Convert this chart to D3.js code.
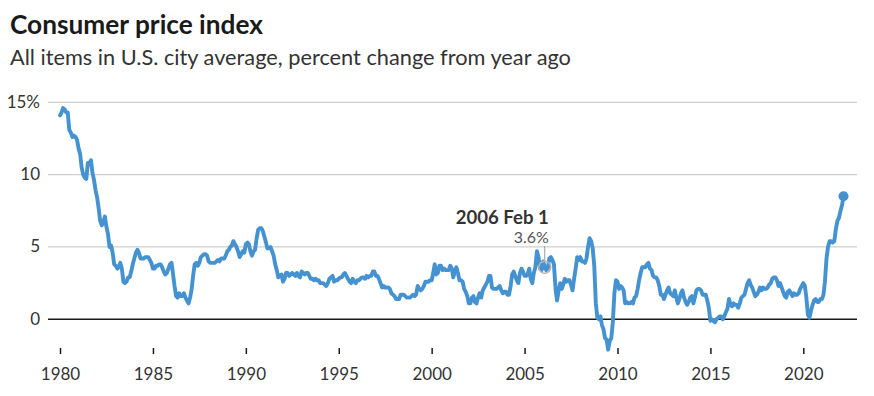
<!DOCTYPE html>
<html>
<head>
<meta charset="utf-8">
<script src="https://cdn.jsdelivr.net/npm/d3@7"></script>
<style>
  html, body { margin: 0; padding: 0; background: #fff; }
  svg { display: block; font-family: Lato, "Open Sans", sans-serif; }
</style>
</head>
<body>
<svg id="chart" width="874" height="396"></svg>
<script>
// ---- data ----
const title = "Consumer price index";
const subtitle = "All items in U.S. city average, percent change from year ago";
const startYear = 1980;
// Monthly CPI-U, % change from year ago, Jan 1980 .. Mar 2022
const cpiYoY = [
  14.1, 14.3, 14.6, 14.5, 14.3, 14.3, 13.1, 12.9, 12.6, 12.7, 12.6, 12.4,
  11.8, 11.4, 10.5, 10.0, 9.8, 9.7, 10.8, 10.8, 11.0, 10.1, 9.6, 8.9,
  8.4, 7.6, 6.8, 6.5, 6.7, 7.1, 6.4, 5.9, 5.0, 5.1, 4.6, 3.8,
  3.7, 3.5, 3.6, 3.9, 3.5, 2.6, 2.5, 2.6, 2.9, 2.9, 3.3, 3.8,
  4.2, 4.6, 4.8, 4.6, 4.2, 4.2, 4.2, 4.3, 4.3, 4.3, 4.1, 3.9,
  3.5, 3.5, 3.7, 3.7, 3.8, 3.8, 3.6, 3.3, 3.1, 3.2, 3.5, 3.8,
  3.9, 3.1, 2.3, 1.6, 1.5, 1.8, 1.6, 1.6, 1.8, 1.5, 1.3, 1.1,
  1.5, 2.1, 3.0, 3.8, 3.9, 3.7, 3.9, 4.3, 4.4, 4.5, 4.5, 4.4,
  4.0, 3.9, 3.9, 3.9, 3.9, 4.0, 4.1, 4.0, 4.2, 4.2, 4.2, 4.4,
  4.7, 4.8, 5.0, 5.1, 5.4, 5.2, 5.0, 4.7, 4.3, 4.5, 4.7, 4.6,
  5.2, 5.3, 5.2, 4.7, 4.4, 4.7, 4.8, 5.6, 6.2, 6.3, 6.3, 6.1,
  5.7, 5.3, 4.9, 4.9, 5.0, 4.7, 4.4, 3.8, 3.4, 2.9, 3.0, 3.1,
  2.6, 2.8, 3.2, 3.2, 3.0, 3.1, 3.2, 3.1, 3.0, 3.2, 3.0, 2.9,
  3.3, 3.2, 3.1, 3.2, 3.2, 3.0, 2.8, 2.8, 2.7, 2.8, 2.7, 2.7,
  2.5, 2.5, 2.5, 2.4, 2.3, 2.5, 2.8, 2.9, 3.0, 2.6, 2.7, 2.7,
  2.8, 2.9, 2.9, 3.1, 3.2, 3.0, 2.8, 2.6, 2.5, 2.8, 2.6, 2.5,
  2.7, 2.7, 2.8, 2.9, 2.9, 2.8, 3.0, 2.9, 3.0, 3.0, 3.3, 3.3,
  3.0, 3.0, 2.8, 2.5, 2.2, 2.3, 2.2, 2.2, 2.2, 2.1, 1.8, 1.7,
  1.6, 1.4, 1.4, 1.4, 1.7, 1.7, 1.7, 1.6, 1.5, 1.5, 1.5, 1.6,
  1.7, 1.6, 1.7, 2.3, 2.1, 2.0, 2.1, 2.3, 2.6, 2.6, 2.6, 2.7,
  2.7, 3.2, 3.8, 3.1, 3.2, 3.7, 3.7, 3.4, 3.5, 3.4, 3.4, 3.4,
  3.7, 3.5, 2.9, 3.3, 3.6, 3.2, 2.7, 2.7, 2.6, 2.1, 1.9, 1.6,
  1.1, 1.1, 1.5, 1.6, 1.2, 1.1, 1.5, 1.8, 1.5, 2.0, 2.2, 2.4,
  2.6, 3.0, 3.0, 2.2, 2.1, 2.1, 2.1, 2.2, 2.3, 2.0, 1.8, 1.9,
  1.9, 1.7, 1.7, 2.3, 3.1, 3.3, 3.0, 2.7, 2.5, 3.2, 3.5, 3.3,
  3.0, 3.0, 3.1, 3.5, 2.8, 2.5, 3.2, 3.6, 4.7, 4.3, 3.5, 3.4,
  4.0, 3.6, 3.4, 3.5, 4.2, 4.3, 4.1, 3.8, 2.1, 1.3, 2.0, 2.5,
  2.1, 2.4, 2.8, 2.6, 2.7, 2.7, 2.4, 2.0, 2.8, 3.5, 4.3, 4.1,
  4.3, 4.0, 4.0, 3.9, 4.2, 5.0, 5.6, 5.4, 4.9, 3.7, 1.1, 0.1,
  0.0, 0.2, -0.4, -0.7, -1.3, -1.4, -2.1, -1.5, -1.3, -0.2, 1.8, 2.7,
  2.6, 2.1, 2.3, 2.2, 2.0, 1.1, 1.2, 1.1, 1.1, 1.2, 1.1, 1.5,
  1.6, 2.1, 2.7, 3.2, 3.6, 3.6, 3.6, 3.8, 3.9, 3.5, 3.4, 3.0,
  2.9, 2.9, 2.7, 2.3, 1.7, 1.7, 1.4, 1.7, 2.0, 2.2, 1.8, 1.7,
  1.6, 2.0, 1.5, 1.1, 1.4, 1.8, 2.0, 1.5, 1.2, 1.0, 1.2, 1.5,
  1.6, 1.1, 1.5, 2.0, 2.1, 2.1, 2.0, 1.7, 1.7, 1.7, 1.3, 0.8,
  -0.1, 0.0, -0.1, -0.2, 0.0, 0.1, 0.2, 0.2, 0.0, 0.2, 0.5, 0.7,
  1.4, 1.0, 0.9, 1.1, 1.0, 1.0, 0.8, 1.1, 1.5, 1.6, 1.7, 2.1,
  2.5, 2.7, 2.4, 2.2, 1.9, 1.6, 1.7, 1.9, 2.2, 2.0, 2.2, 2.1,
  2.1, 2.2, 2.4, 2.5, 2.8, 2.9, 2.9, 2.7, 2.3, 2.5, 2.2, 1.9,
  1.6, 1.5, 1.9, 2.0, 1.8, 1.6, 1.8, 1.7, 1.7, 1.8, 2.1, 2.3,
  2.5, 2.3, 1.5, 0.3, 0.1, 0.6, 1.0, 1.3, 1.4, 1.2, 1.2, 1.4,
  1.4, 1.7, 2.6, 4.2, 5.0, 5.4, 5.4, 5.3, 5.4, 6.2, 6.8, 7.0,
  7.5, 7.9, 8.5
];
const yTicks = [0, 5, 10, 15];
const xTickYears = [1980, 1985, 1990, 1995, 2000, 2005, 2010, 2015, 2020];
const annotationLabel = "2006 Feb 1";
const annotationDate = [2006, 1]; // year, month index (Feb)
const annotationValue = "3.6%";

// ---- build series ----
const series = cpiYoY.map((v, i) => ({
  date: new Date(startYear + Math.floor(i / 12), i % 12, 1),
  value: v
}));

// ---- layout ----
const svg = d3.select("#chart");
const x = d3.scaleTime()
  .domain([new Date(1980, 0, 1), new Date(2020, 0, 1)])
  .range([60, 803.3]);
const y = d3.scaleLinear().domain([0, 15]).range([319.3, 102.3]);
const gridX0 = 48, gridX1 = 857;

const blue = "#4592d1";
const textCol = "#333";

function fitText(sel, target) {
  const fs = parseFloat(sel.attr("font-size"));
  const w = sel.node().getComputedTextLength();
  sel.attr("font-size", (fs * target / w).toFixed(2));
}
const t = svg.append("text").attr("x", 10).attr("y", 34)
  .attr("font-size", 24).attr("font-weight", 700).attr("fill", "#1a1a1a")
  .text(title);
fitText(t, 253);
const st = svg.append("text").attr("x", 10).attr("y", 65)
  .attr("font-size", 19).attr("fill", textCol)
  .text(subtitle);
fitText(st, 561);

// gridlines
const grid = svg.append("g");
grid.selectAll("line").data(yTicks).join("line")
  .attr("x1", gridX0).attr("x2", gridX1)
  .attr("y1", d => y(d)).attr("y2", d => y(d))
  .attr("stroke", d => d === 0 ? "#1a1a1a" : "#cfcfcf")
  .attr("stroke-width", d => d === 0 ? 1.5 : 1.2);

// y labels
svg.append("g").selectAll("text").data(yTicks).join("text")
  .attr("x", 40).attr("y", d => y(d) + 1)
  .attr("text-anchor", "end").attr("dominant-baseline", "middle")
  .attr("font-size", 17).attr("fill", textCol)
  .text(d => d === 15 ? d + "%" : d);

// x axis
const xAxis = d3.axisBottom(x)
  .tickValues(xTickYears.map(yr => new Date(yr, 0, 1)))
  .tickFormat(d3.timeFormat("%Y"))
  .tickSize(6).tickPadding(14);
const xg = svg.append("g").attr("transform", "translate(0,348)").call(xAxis);
xg.select(".domain").remove();
xg.selectAll(".tick line").attr("stroke", "#1a1a1a").attr("stroke-width", 1.5);
xg.selectAll(".tick text").attr("font-size", 17).attr("fill", textCol)
  .attr("font-family", "Lato, 'Open Sans', sans-serif");

// line
const line = d3.line().x(d => x(d.date)).y(d => y(d.value)).curve(d3.curveLinear);
svg.append("path").datum(series)
  .attr("d", line).attr("fill", "none")
  .attr("stroke", blue).attr("stroke-width", 3.9)
  .attr("stroke-linejoin", "round").attr("stroke-linecap", "round");

// end dot
const last = series[series.length - 1];
svg.append("circle").attr("cx", x(last.date)).attr("cy", y(last.value))
  .attr("r", 5).attr("fill", blue);

// annotation
const ad = series.find(d => d.date.getFullYear() === annotationDate[0] && d.date.getMonth() === annotationDate[1]);
const ax = x(ad.date), ay = y(ad.value);
const ag = svg.append("g");
ag.append("line").attr("x1", ax).attr("x2", ax).attr("y1", 246).attr("y2", ay - 6)
  .attr("stroke", "#999").attr("stroke-width", 1);
ag.append("circle").attr("cx", ax).attr("cy", ay).attr("r", 6)
  .attr("fill", "none").attr("stroke", "#b5b5b5").attr("stroke-width", 1.5);
const vt = ag.append("text").attr("x", ax + 4).attr("y", 243).attr("text-anchor", "end")
  .attr("font-size", 15).attr("fill", "#555")
  .attr("stroke", "#fff").attr("stroke-width", 4).attr("paint-order", "stroke")
  .text(annotationValue);
fitText(vt, 35);
const lt = ag.append("text").attr("x", ax + 4).attr("y", 224).attr("text-anchor", "end")
  .attr("font-size", 17).attr("font-weight", 700).attr("fill", "#333")
  .text(annotationLabel);
fitText(lt, 93);
</script>
</body>
</html>
